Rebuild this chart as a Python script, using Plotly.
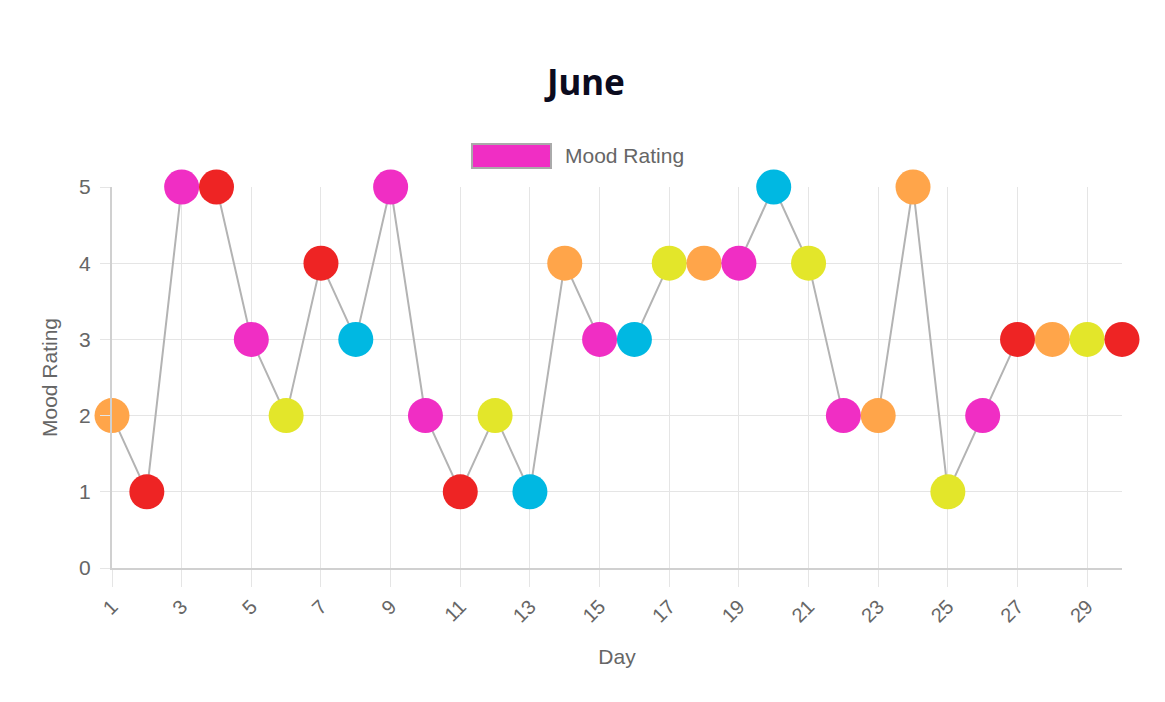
import plotly.graph_objects as go

days = list(range(1, 31))
mood = [2, 1, 5, 5, 3, 2, 4, 3, 5, 2, 1, 2, 1, 4, 3, 3, 4, 4, 4, 5, 4, 2, 2, 5, 1, 2, 3, 3, 3, 3]
mood_color = ["orange", "red", "magenta", "red", "magenta", "yellow", "red", "blue", "magenta", "magenta",
              "red", "yellow", "blue", "orange", "magenta", "blue", "yellow", "orange", "magenta", "blue",
              "yellow", "magenta", "orange", "orange", "yellow", "magenta", "red", "orange", "yellow", "red"]
tick_vals = list(range(1, 30, 2))
tick_text = [str(v) for v in tick_vals]
y_ticks = [0, 1, 2, 3, 4, 5]

palette = {"orange": "#FFA54A", "red": "#EE2424", "magenta": "#F02EC4", "yellow": "#E3E62A", "blue": "#00B8E2"}

W, H = 1165, 702
OFFX, OFFY = 6, 8
L, T = 110 - OFFX, 187 - OFFY
R = W - (1120 - OFFX)
B = H - (568 - OFFY)
PW, PH = W - L - R, H - T - B

fig = go.Figure()
fig.add_trace(go.Scatter(
    x=days, y=mood, mode="lines+markers",
    line=dict(color="#B3B3B3", width=2),
    marker=dict(size=35, color=[palette[c] for c in mood_color], line=dict(width=0)),
    cliponaxis=False, showlegend=False, name="Mood Rating",
))

grid = "#E5E5E5"
fnt = "Liberation Sans, Arial"
fig.update_xaxes(
    range=[1, 30], tickmode="array", tickvals=tick_vals, ticktext=tick_text,
    tickangle=-45, showgrid=True, gridcolor=grid, gridwidth=1,
    ticks="outside", ticklen=17, tickcolor=grid, tickwidth=1,
    showline=True, linecolor="#D0D0D0", linewidth=2, zeroline=False,
    tickfont=dict(family=fnt, size=20, color="#666666"),
    title=dict(text="Day", font=dict(family=fnt, size=21, color="#666666"), standoff=24),
)
fig.update_yaxes(
    range=[0, 5], tickmode="array", tickvals=y_ticks,
    showgrid=True, gridcolor=grid, gridwidth=1,
    ticks="outside", ticklen=10, tickcolor=grid, tickwidth=1,
    showline=True, linecolor="#D0D0D0", linewidth=2, zeroline=False,
    tickfont=dict(family=fnt, size=21, color="#666666"), ticklabelstandoff=5,
    title=dict(text="Mood Rating", font=dict(family=fnt, size=21, color="#666666"), standoff=16),
)

# legend drawn manually (Chart.js style box), positions in page pixels
def fx(p):
    return (p - OFFX - L) / PW
def fy(p):
    return (H - B - (p - OFFY)) / PH

fig.add_shape(type="rect", xref="paper", yref="paper",
              x0=fx(470), x1=fx(549), y0=fy(168), y1=fy(144),
              fillcolor=palette["magenta"], line=dict(color="#AAAAAA", width=2))
fig.add_annotation(xref="paper", yref="paper", x=fx(561), y=fy(155),
                   text="Mood Rating", showarrow=False, xanchor="left", yanchor="middle",
                   font=dict(family=fnt, size=21, color="#666666"))

fig.update_layout(
    width=W, height=H,
    margin=dict(l=L, r=R, t=T, b=B),
    paper_bgcolor="white", plot_bgcolor="white",
    title=dict(text="<b>June</b>", x=(584 - OFFX) / W, xanchor="center", y=1 - (83 - OFFY) / H, yanchor="middle",
               font=dict(family="Noto Sans, Open Sans", size=35, color="#0B0B1E")),
    showlegend=False,
)

fig.write_html("out.html")
